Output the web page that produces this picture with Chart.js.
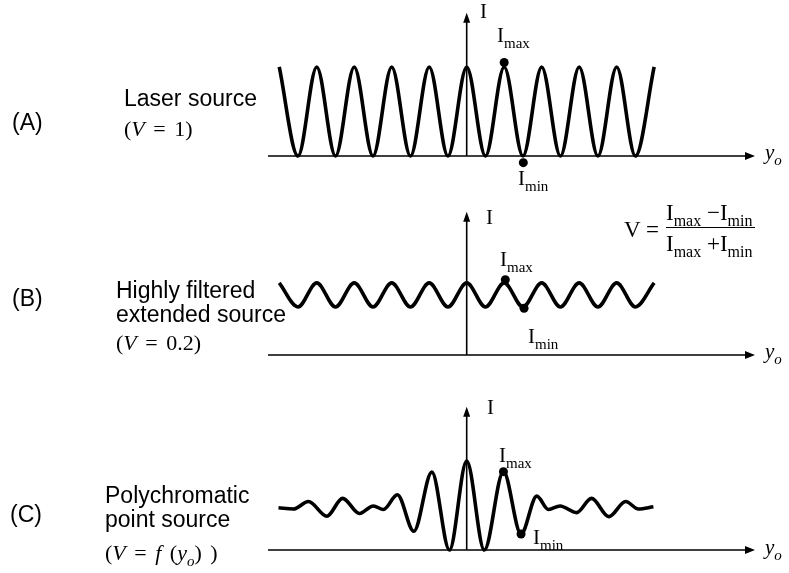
<!DOCTYPE html>
<html>
<head>
<meta charset="utf-8">
<script src="https://cdn.jsdelivr.net/npm/chart.js@4.4.1/dist/chart.umd.min.js"></script>
<style>
  body { margin: 0; background: #fff; }
  #wrap { position: relative; width: 789px; height: 573px; overflow: hidden; }
  canvas { position: absolute; left: 0; }
  .lbl { position: absolute; white-space: nowrap; line-height: 1; color: #000; }
  .sans { font-family: "Liberation Sans", Arial, sans-serif; font-size: 23px; }
  .serif { font-family: "Liberation Serif", "Times New Roman", serif; font-size: 21px; }
  .serif sub { font-size: 15px; vertical-align: -6px; line-height: 0; }
  .vis { font-size: 22px; word-spacing: 3px; }
  .frac { position: absolute; font-family: "Liberation Serif", "Times New Roman", serif; font-size: 23px; line-height: 1; }
  .frac .num { border-bottom: 1.5px solid #000; padding: 0 2px 3px 0; }
  .frac .den { padding-top: 4px; }
  .frac sub { font-size: 16px; vertical-align: -6px; line-height: 0; }
</style>
</head>
<body>
<div id="wrap">
  <canvas id="chartA" width="789" height="190" style="top:0px"></canvas>
  <canvas id="chartB" width="789" height="190" style="top:190px"></canvas>
  <canvas id="chartC" width="789" height="193" style="top:380px"></canvas>

  <div class="lbl sans" style="left:12px; top:111px">(A)</div>
  <div class="lbl sans" style="left:124px; top:87px">Laser source</div>
  <div class="lbl serif vis" style="left:124px; top:118px">(<i>V</i> = 1)</div>

  <div class="lbl sans" style="left:12px; top:287px">(B)</div>
  <div class="lbl sans" style="left:116px; top:279px">Highly filtered</div>
  <div class="lbl sans" style="left:116px; top:303px">extended source</div>
  <div class="lbl serif vis" style="left:116px; top:332px">(<i>V</i> = 0.2)</div>

  <div class="lbl sans" style="left:10px; top:503px">(C)</div>
  <div class="lbl sans" style="left:105px; top:484px">Polychromatic</div>
  <div class="lbl sans" style="left:105px; top:508px">point source</div>
  <div class="lbl serif vis" style="left:105px; top:542px">(<i>V</i> = <i>f</i> (<i>y<sub>o</sub></i>) )</div>

  <!-- axis names -->
  <div class="lbl serif" style="left:480px; top:1px">I</div>
  <div class="lbl serif" style="left:486px; top:207px">I</div>
  <div class="lbl serif" style="left:487px; top:397px">I</div>
  <div class="lbl serif" style="left:765px; top:142px"><i>y<sub>o</sub></i></div>
  <div class="lbl serif" style="left:765px; top:341px"><i>y<sub>o</sub></i></div>
  <div class="lbl serif" style="left:765px; top:537px"><i>y<sub>o</sub></i></div>

  <!-- max / min markers -->
  <div class="lbl serif" style="left:497px; top:25px">I<sub>max</sub></div>
  <div class="lbl serif" style="left:518px; top:168px">I<sub>min</sub></div>
  <div class="lbl serif" style="left:500px; top:249px">I<sub>max</sub></div>
  <div class="lbl serif" style="left:528px; top:326px">I<sub>min</sub></div>
  <div class="lbl serif" style="left:499px; top:445px">I<sub>max</sub></div>
  <div class="lbl serif" style="left:533px; top:527px">I<sub>min</sub></div>

  <!-- visibility formula -->
  <div class="frac" style="left:624px; top:218px">V =</div>
  <div class="frac" style="left:666px; top:201px">
    <div class="num">I<sub>max</sub> &minus;I<sub>min</sub></div>
    <div class="den">I<sub>max</sub> +I<sub>min</sub></div>
  </div>
</div>

<script>
// fringe positions along y_o (one unit = one fringe period)
const fringeX = [-5, -4.5, -4, -3.5, -3, -2.5, -2, -1.5, -1, -0.5, 0,
                 0.5, 1, 1.5, 2, 2.5, 3, 3.5, 4, 4.5, 5];

// (A) laser: full contrast
const laserI = [2, 0, 2, 0, 2, 0, 2, 0, 2, 0, 2,
                0, 2, 0, 2, 0, 2, 0, 2, 0, 2];

// (B) filtered extended source: V = 0.2
const filteredI = [1.62, 1.08, 1.62, 1.08, 1.62, 1.08, 1.62, 1.08, 1.62, 1.08, 1.62,
                   1.08, 1.62, 1.08, 1.62, 1.08, 1.62, 1.08, 1.62, 1.08, 1.62];

// (C) polychromatic point source: contrast dies away from zero path difference
const polyX = [-5.02, -4.62, -4.22, -3.73, -3.31, -2.86, -2.49, -2.22, -1.85, -1.41, -0.93, -0.46, 0,
               0.47, 0.98, 1.45, 1.87, 2.18, 2.49, 2.93, 3.33, 3.79, 4.24, 4.58, 4.98];
const polyI = [0.95, 0.92, 1.09, 0.76, 1.16, 0.82, 0.99, 0.91, 1.24, 0.42, 1.75, 0, 2,
               0, 1.76, 0.36, 1.21, 0.91, 0.99, 0.84, 1.16, 0.75, 1.09, 0.92, 0.97];

// marked I_max / I_min points [x, I]
const laserDots = [[1.0, 2.1], [1.51, -0.15]];
const filteredDots = [[1.03, 1.69], [1.53, 1.05]];
const polyDots = [[0.98, 1.76], [1.45, 0.36]];

const xMin = -5.3;
const xMax = 7.69;
const yMin = -0.3;
const yMax = 3.22;

// arrows for the two axes, drawn through the origin of the scales
const arrowAxes = {
  id: "arrowAxes",
  beforeDatasetsDraw(chart) {
    let ctx = chart.ctx;
    let area = chart.chartArea;
    let x0 = chart.scales.x.getPixelForValue(0);
    let y0 = chart.scales.y.getPixelForValue(0);
    ctx.save();
    ctx.strokeStyle = "#000";
    ctx.fillStyle = "#000";
    ctx.lineWidth = 1.6;
    ctx.beginPath();
    ctx.moveTo(area.left, y0);
    ctx.lineTo(area.right - 8, y0);
    ctx.moveTo(x0, y0);
    ctx.lineTo(x0, area.top + 8);
    ctx.stroke();
    ctx.beginPath();
    ctx.moveTo(area.right, y0);
    ctx.lineTo(area.right - 10, y0 - 4);
    ctx.lineTo(area.right - 10, y0 + 4);
    ctx.closePath();
    ctx.fill();
    ctx.beginPath();
    ctx.moveTo(x0, area.top);
    ctx.lineTo(x0 - 3.5, area.top + 10);
    ctx.lineTo(x0 + 3.5, area.top + 10);
    ctx.closePath();
    ctx.fill();
    ctx.restore();
  }
};

function toPoints(xs, ys) {
  let pts = [];
  for (let i = 0; i < xs.length; i++) {
    pts.push({ x: xs[i], y: ys[i] });
  }
  return pts;
}

function makePanel(id, xs, ys, dots, padTop, padBottom) {
  let ctx = document.getElementById(id).getContext("2d");
  return new Chart(ctx, {
    type: "scatter",
    data: {
      datasets: [
        {
          data: toPoints(xs, ys),
          showLine: true,
          borderColor: "#000",
          borderWidth: 3.6,
          pointRadius: 0,
          cubicInterpolationMode: "monotone",
          clip: false
        },
        {
          data: dots.map(d => ({ x: d[0], y: d[1] })),
          showLine: false,
          pointRadius: 4.5,
          pointBackgroundColor: "#000",
          pointBorderWidth: 0,
          clip: false
        }
      ]
    },
    options: {
      responsive: false,
      animation: false,
      layout: { padding: { left: 268, right: 34, top: padTop, bottom: padBottom } },
      plugins: { legend: { display: false }, tooltip: { enabled: false } },
      scales: {
        x: { type: "linear", min: xMin, max: xMax, display: false },
        y: { type: "linear", min: yMin, max: yMax, display: false }
      }
    },
    plugins: [arrowAxes]
  });
}

// bottom padding puts I = 0 on each panel's baseline
makePanel("chartA", fringeX, laserI, laserDots, 12.7, 20.65);
makePanel("chartB", fringeX, filteredI, filteredDots, 21.7, 11.65);
makePanel("chartC", polyX, polyI, polyDots, 26.7, 9.65);
</script>
</body>
</html>
